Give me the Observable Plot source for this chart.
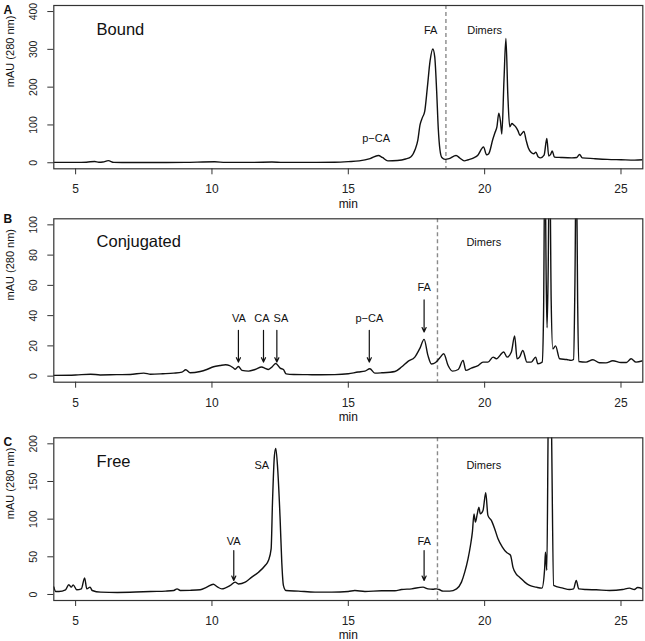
<!DOCTYPE html>
<html>
<head>
<meta charset="utf-8">
<script src="https://cdn.jsdelivr.net/npm/d3@7"></script>
<script src="https://cdn.jsdelivr.net/npm/@observablehq/plot@0.6"></script>
<style>
  html, body { margin: 0; padding: 0; background: #fff; }
  #chart { width: 645px; }
  #chart svg { display: block; }
</style>
</head>
<body>
<div id="chart"></div>
<script>
// ---------- shared axis values ----------
const xDomain = [4.2, 25.8];
const xTicks = [5, 10, 15, 20, 25];

// ---------- Panel A: Bound ----------
const timeA = [4.2, 4.6, 5.0, 5.4, 5.7, 5.85, 6.0, 6.2, 6.4, 7.0, 8.0, 9.0, 10.1, 10.5, 11.5, 12.2, 12.6, 13.5, 14.5,
  15.0, 15.4, 15.8, 16.1, 16.25, 16.45, 16.8, 17.1, 17.3, 17.45, 17.55, 17.63, 17.72, 17.8, 17.9, 18.0, 18.1, 18.17,
  18.24, 18.3, 18.36, 18.43, 18.55, 18.7, 18.95, 19.1, 19.25, 19.4, 19.6, 19.75, 19.9, 19.96, 20.07, 20.15, 20.3,
  20.38, 20.45, 20.52, 20.58, 20.63, 20.71, 20.78, 20.85, 20.92, 21.0, 21.07, 21.14, 21.22, 21.3, 21.37, 21.44,
  21.52, 21.6, 21.7, 21.8, 21.88, 21.96, 22.05, 22.18, 22.28, 22.35, 22.42, 22.48, 22.56, 22.8, 23.2, 23.38, 23.48,
  23.58, 24.0, 24.5, 25.0, 25.5, 25.8];
const mauA = [1, 1, 1, 1.5, 3.5, 1.5, 2, 5.5, 1, 0.5, 0.5, 1, 2.5, 1, 1, 2, 1, 1, 1.5,
  3, 5, 11, 19, 14, 5, 6, 10, 16, 35, 60, 100, 120, 135, 200, 270, 301, 280,
  190, 90, 35, 14, 9, 11, 19, 12, 5, 8, 13, 20, 38, 42, 21, 24, 62,
  80, 95, 131, 110, 76, 220, 329, 180, 95, 104, 100, 95, 85, 72, 78, 83,
  60, 40, 28, 24, 28, 16, 13, 20, 64, 18, 22, 31, 15, 14, 13, 14, 22,
  13, 11, 9, 8, 7, 8];
const yTicksA = [0, 100, 200, 300, 400];
const labelTextA = ["p\u2212CA", "FA", "Dimers"];
const labelXA = [16.02, 18.02, 20.0];
const labelYA = [63, 351, 351];

// ---------- Panel B: Conjugated ----------
const timeB = [4.2, 5.0, 5.55, 5.9, 6.5, 7.0, 7.5, 7.75, 8.2, 8.6, 8.9, 9.04, 9.2, 9.57, 9.81, 10.06, 10.3, 10.5,
  10.65, 10.8, 10.85, 10.97, 11.1, 11.34, 11.58, 11.83, 11.93, 12.07, 12.22, 12.34, 12.5, 12.62, 12.72, 13.0, 13.5,
  14.0, 14.5, 15.0, 15.36, 15.61, 15.79, 15.97, 16.22, 16.71, 16.95, 17.19, 17.44, 17.62, 17.78, 17.92, 18.05,
  18.2, 18.35, 18.5, 18.66, 18.82, 19.03, 19.21, 19.31, 19.51, 19.76, 19.94, 20.12, 20.31, 20.43, 20.7, 20.82,
  20.98, 21.1, 21.19, 21.28, 21.4, 21.55, 21.71, 21.87, 21.95, 22.11, 22.16, 22.21, 22.26, 22.29, 22.33, 22.38,
  22.44, 22.5, 22.6, 22.75, 23.01, 23.17, 23.26, 23.31, 23.36, 23.41, 23.45, 23.72, 23.97, 24.21, 24.45, 24.7,
  25.0, 25.2, 25.37, 25.55, 25.8];
const mauB = [0.5, 0.8, 1.3, 0.8, 1, 1.1, 2, 1.3, 1.6, 2, 2.7, 4.2, 2.2, 3.1, 4.4, 6.2, 7, 7.5,
  7, 5.2, 4.6, 6.4, 3.8, 3.3, 4.4, 6, 5.3, 4.4, 6.4, 8.4, 5.3, 4.4, 1.5, 1.1, 1,
  0.9, 1, 1.6, 2.7, 3.3, 4.9, 2, 2.2, 3.1, 6, 9.8, 12.6, 18.2, 24.3, 13.7, 8,
  9, 12, 14.8, 7, 3.3, 4.4, 10.4, 3.8, 5.3, 7, 9.3, 9.3, 12.6, 11.5, 16, 12.6,
  16, 26.6, 11.5, 12.6, 17, 9.3, 9.3, 12.6, 8.2, 9.3, 40, 150, 60, 32, 70, 160,
  50, 18, 20, 11.5, 11, 10.4, 11, 60, 150, 50, 9.7, 9.3, 10.8, 8.9, 8.8, 10.2,
  9, 9, 11.5, 9.3, 10.2];
const yTicksB = [0, 20, 40, 60, 80, 100];
const labelTextB = ["VA", "CA", "SA", "p\u2212CA", "FA", "Dimers"];
const labelXB = [10.99, 11.83, 12.53, 15.77, 17.78, 19.97];
const labelYB = [38, 38, 38, 38, 58.4, 88.5];
const arrowXB = [10.97, 11.89, 12.38, 15.77, 17.78];
const arrowTopB = [30.3, 30.3, 30.3, 30.3, 50.4];
const arrowTipB = [9.3, 9.3, 9.3, 9.3, 29.2];

// ---------- Panel C: Free ----------
const timeC = [4.2, 4.27, 4.39, 4.63, 4.75, 4.84, 4.91, 5.04, 5.21, 5.33, 5.41, 5.53, 5.61, 5.92, 6.53, 7.2, 7.75,
  8.3, 8.6, 8.72, 8.84, 9.2, 9.57, 9.81, 10.05, 10.2, 10.36, 10.67, 10.85, 10.97, 11.22, 11.46, 11.71, 11.95, 12.07,
  12.17, 12.22, 12.29, 12.34, 12.41, 12.5, 12.56, 12.62, 12.71, 13.17, 13.78, 14.39, 15.0, 15.24, 15.61, 16.22,
  16.71, 16.95, 17.32, 17.74, 17.92, 18.1, 18.23, 18.33, 18.48, 18.72, 18.97, 19.15, 19.27, 19.39, 19.48, 19.55,
  19.61, 19.66, 19.73, 19.79, 19.84, 19.94, 20.04, 20.12, 20.25, 20.37, 20.49, 20.65, 20.8, 20.88, 20.95, 21.04,
  21.16, 21.28, 21.47, 21.65, 21.89, 22.1, 22.2, 22.23, 22.28, 22.34, 22.39, 22.44, 22.53, 22.87, 23.11, 23.26,
  23.36, 23.45, 23.72, 24.09, 24.58, 25.06, 25.31, 25.49, 25.61, 25.8];
const mauC = [10, 4, 4, 6.2, 13, 9.7, 12.8, 6.2, 7.5, 22, 7.5, 9.7, 5.3, 3.1, 2.7, 3.2, 4,
  4.5, 5.3, 7.5, 5.3, 5.5, 6.2, 9.7, 13.5, 10, 7.5, 12, 16.4, 14, 16.4, 23, 29.6, 38.5, 45,
  60.6, 122.5, 184, 194, 167, 100, 43, 12, 5.3, 4.4, 3.1, 3.1, 4, 5.3, 4, 4.9,
  4.9, 6.6, 7.5, 9.7, 7.5, 7, 7.5, 6.6, 4.4, 4.4, 7.5, 16.4, 29.6, 47.3, 65, 82.7,
  107, 96, 107, 116, 107, 111.5, 135, 105, 98, 87, 74, 63, 56, 54, 52, 36,
  27, 23, 16.4, 12, 9.7, 8.4, 34, 56, 32, 260, 300, 250, 12, 8.4, 6.6, 7.5,
  18.6, 7.5, 6.6, 6.2, 5.3, 6.6, 8.4, 6.6, 9.3, 7.5];
const yTicksC = [0, 50, 100, 150, 200];
const labelTextC = ["SA", "VA", "FA", "Dimers"];
const labelXC = [11.83, 10.8, 17.78, 19.97];
const labelYC = [171, 70.3, 70.3, 171];
const arrowXC = [10.8, 17.78];
const arrowTopC = [58.4, 58.4];
const arrowTipC = [18.6, 18.6];

const FONT = "'Liberation Sans', Arial, Helvetica, sans-serif";

function panel(o) {
  const data = o.times.map((t, i) => ({t, v: o.values[i]}));
  const yMax = o.yTicks[o.yTicks.length - 1];
  const pad = yMax * 0.04;
  const labels = o.labelText.map((s, i) => ({text: s, x: o.labelX[i], y: o.labelY[i]}));
  const arrows = (o.arrowX || []).map((x, i) => ({x, y1: o.arrowTop[i], y2: o.arrowTip[i]}));
  return Plot.plot({
    width: 645,
    height: o.height,
    marginLeft: 53.3,
    marginRight: 2.7,
    marginTop: o.marginTop,
    marginBottom: o.marginBottom,
    style: {fontFamily: FONT, fontSize: "12px", color: "#222", background: "#fff"},
    x: {domain: xDomain, label: null},
    y: {domain: [-pad, yMax + pad], label: null},
    marks: [
      Plot.axisX({ticks: xTicks, tickSize: 6, tickPadding: 10, fontSize: 12, label: null, stroke: "#333"}),
      Plot.axisY({ticks: o.yTicks, tickSize: 6, tickRotate: -90, tickPadding: 10.5, fontSize: 10.5, label: null, stroke: "#333"}),
      Plot.ruleX([o.dashX], {stroke: "#8a8a8a", strokeDasharray: "4,3", strokeWidth: 1.4}),
      Plot.line(data, {x: "t", y: "v", curve: "monotone-x", stroke: "#111", strokeWidth: 1.4, clip: true}),
      Plot.arrow(arrows, {x1: "x", x2: "x", y1: "y1", y2: "y2", headLength: 6, headAngle: 50, stroke: "#111", strokeWidth: 1.2}),
      Plot.text(labels, {x: "x", y: "y", text: "text", fontSize: 11, fill: "#111"}),
      Plot.text([o.title], {x: 5.768, y: o.titleY, text: d => d, textAnchor: "start", fontSize: 16.5, fill: "#111"}),
      Plot.text([o.letter], {frameAnchor: "top-left", text: d => d, textAnchor: "start", lineAnchor: "top", dx: -50.3, dy: o.letterDy, fontWeight: "bold", fontSize: 12, fill: "#111"}),
      Plot.text(["mAU (280 nm)"], {frameAnchor: "left", text: d => d, rotate: -90, dx: -43.8, fontSize: 11, fill: "#111"}),
      Plot.text(["min"], {frameAnchor: "bottom", text: d => d, lineAnchor: "middle", dy: 35, fontSize: 12, fill: "#111"}),
      Plot.frame({stroke: "#333", strokeWidth: 1.2})
    ]
  });
}

const chart = document.getElementById("chart");
chart.append(panel({
  letter: "A", title: "Bound", titleY: 352, times: timeA, values: mauA, yTicks: yTicksA, dashX: 18.58,
  labelText: labelTextA, labelX: labelXA, labelY: labelYA,
  height: 213, marginTop: 5, marginBottom: 44.7, letterDy: 0
}));
chart.append(panel({
  letter: "B", title: "Conjugated", titleY: 88.7, times: timeB, values: mauB, yTicks: yTicksB, dashX: 18.27,
  labelText: labelTextB, labelX: labelXB, labelY: labelYB,
  arrowX: arrowXB, arrowTop: arrowTopB, arrowTip: arrowTipB,
  height: 214, marginTop: 5.3, marginBottom: 45.3, letterDy: -4
}));
chart.append(panel({
  letter: "C", title: "Free", titleY: 175.6, times: timeC, values: mauC, yTicks: yTicksC, dashX: 18.27,
  labelText: labelTextC, labelX: labelXC, labelY: labelYC,
  arrowX: arrowXC, arrowTop: arrowTopC, arrowTip: arrowTipC,
  height: 214, marginTop: 10.3, marginBottom: 41, letterDy: -0.6
}));
</script>
</body>
</html>
